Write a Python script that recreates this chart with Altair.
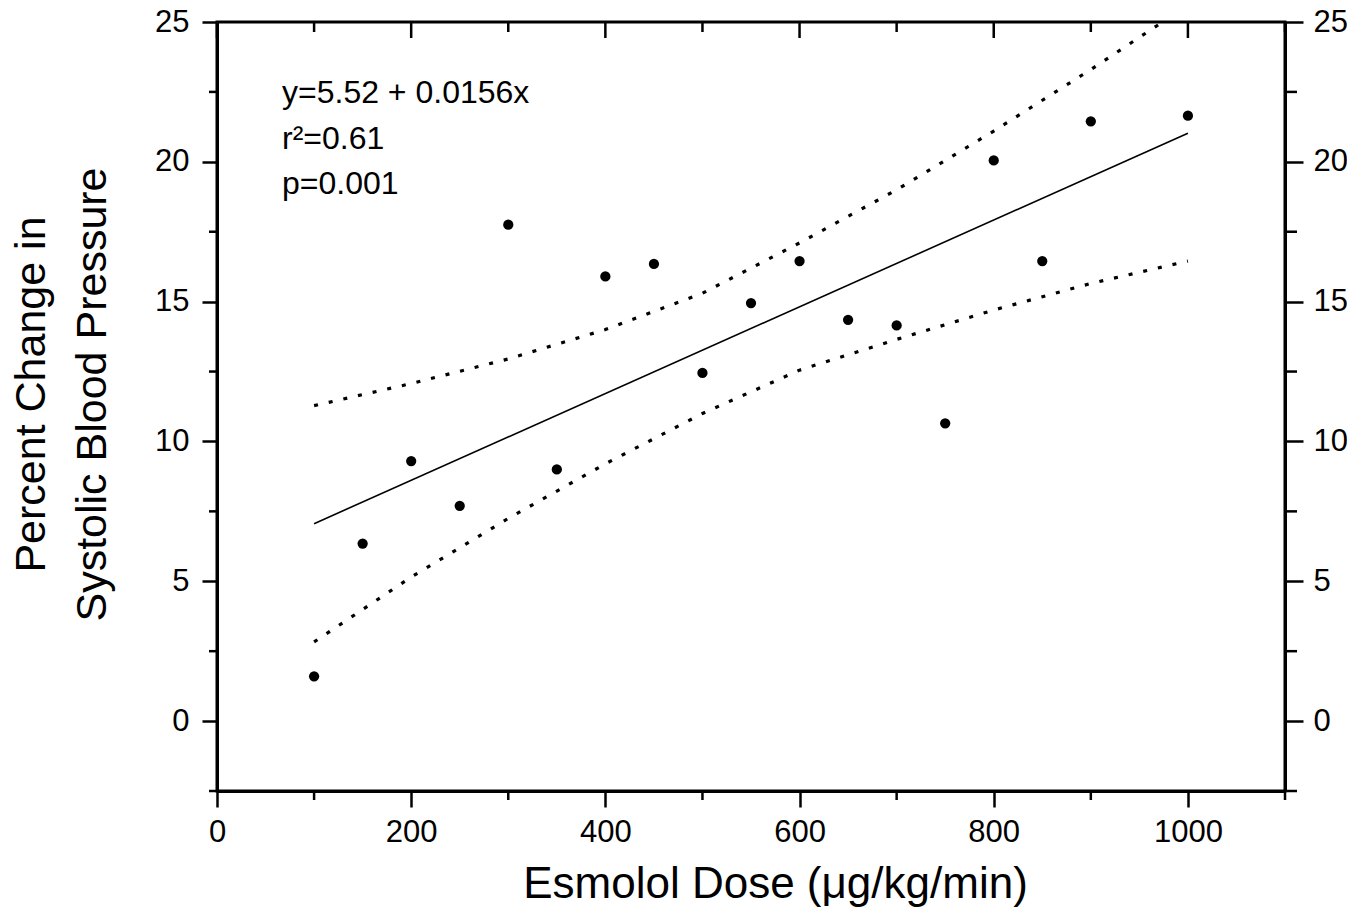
import altair as alt
import pandas as pd

# ---- data ----
dose = [100, 150, 200, 250, 300, 350, 400, 450, 500, 550, 600, 650, 700, 750, 800, 850, 900, 1000]
pct_change = [1.6, 6.35, 9.3, 7.7, 17.75, 9.0, 15.9, 16.35, 12.45, 14.95, 16.45, 14.35, 14.15,
              10.65, 20.05, 16.45, 21.45, 21.65]

fit_dose = [100, 1000]
fit_value = [7.06, 21.02]

band_dose = [100, 200, 300, 400, 500, 600, 700, 800, 900, 1000]
band_upper = [11.28, 12.07, 12.95, 14.0, 15.3, 17.1, 19.0, 21.1, 23.3, 25.6]
band_lower = [2.83, 5.15, 7.25, 9.2, 11.0, 12.55, 13.65, 14.7, 15.65, 16.45]

x_major = [0, 200, 400, 600, 800, 1000]
x_minor = [100, 300, 500, 700, 900, 1100]
y_major = [0, 5, 10, 15, 20, 25]
y_minor = [-2.5, 2.5, 7.5, 12.5, 17.5, 22.5]

annotation = ["y=5.52 + 0.0156x", "r\u00b2=0.61", "p=0.001"]
x_title = "Esmolol Dose (\u03bcg/kg/min)"
y_title = ["Percent Change in", "Systolic Blood Pressure"]

# ---- tables ----
df_pts = pd.DataFrame({"dose": dose, "change": pct_change})
df_fit = pd.DataFrame({"dose": fit_dose, "fit": fit_value})
df_band = pd.DataFrame({"dose": band_dose, "upper": band_upper, "lower": band_lower})
df_xmaj = pd.DataFrame({"v": x_major})
df_xmin = pd.DataFrame({"v": x_minor})
df_ymin = pd.DataFrame({"v": y_minor})
df_ann = pd.DataFrame({"t": ["\n".join(annotation)]})

W, H = 1068, 769
FONT = "Liberation Sans"
xscale = alt.Scale(domain=[0, 1100], nice=False, zero=False)
yscale = alt.Scale(domain=[-2.5, 25], nice=False, zero=False)

common_axis = dict(
    grid=False, domainColor="black", domainWidth=3, tickColor="black", tickWidth=2.5,
    labelFont=FONT, labelFontSize=31, labelColor="black", labelFlush=False,
    labelOverlap=False, titleFont=FONT, titleColor="black", titleFontWeight="normal",
    format="d",
)

x_axis = alt.Axis(
    values=x_major, orient="bottom", tickSize=16, labelPadding=10,
    title=x_title, titleFontSize=44, titleX=558, titleY=106,
    titleAlign="center", titleBaseline="alphabetic", **common_axis,
)
y_axis_left = alt.Axis(
    values=y_major, orient="left", tickSize=15, labelPadding=13,
    title=y_title, titleFontSize=43, titleAngle=270, titleX=-173, titleY=372,
    titleAlign="center", titleBaseline="alphabetic", titleLineHeight=61,
    **common_axis,
)
y_axis_right = alt.Axis(
    values=y_major, orient="right", tickSize=18, labelPadding=10, title=None,
    **common_axis,
)

points = alt.Chart(df_pts).mark_circle(size=105, color="black", opacity=1).encode(
    x=alt.X("dose:Q", scale=xscale, axis=x_axis),
    y=alt.Y("change:Q", scale=yscale, axis=y_axis_left),
)

fit = alt.Chart(df_fit).mark_line(color="black", strokeWidth=1.6).encode(
    x=alt.X("dose:Q", scale=xscale, axis=None),
    y=alt.Y("fit:Q", scale=yscale, axis=y_axis_right),
)

band_style = dict(color="black", strokeWidth=3.2, strokeDash=[4, 11], strokeCap="butt", clip=True)

upper = alt.Chart(df_band).mark_line(**band_style).encode(
    x=alt.X("dose:Q", scale=xscale, axis=None),
    y=alt.Y("upper:Q", scale=yscale, axis=None),
)

lower = alt.Chart(df_band).mark_line(**band_style).encode(
    x=alt.X("dose:Q", scale=xscale, axis=None),
    y=alt.Y("lower:Q", scale=yscale, axis=None),
)

rule_style = dict(color="black", strokeWidth=2.5, strokeCap="butt")

top_major = alt.Chart(df_xmaj).mark_rule(**rule_style).encode(
    x=alt.X("v:Q", scale=xscale, axis=None), y=alt.value(0), y2=alt.value(16)
)
top_minor = alt.Chart(df_xmin).mark_rule(**rule_style).encode(
    x=alt.X("v:Q", scale=xscale, axis=None), y=alt.value(0), y2=alt.value(10)
)
bottom_minor = alt.Chart(df_xmin).mark_rule(**rule_style).encode(
    x=alt.X("v:Q", scale=xscale, axis=None), y=alt.value(H), y2=alt.value(H + 9)
)
left_minor = alt.Chart(df_ymin).mark_rule(**rule_style).encode(
    y=alt.Y("v:Q", scale=yscale, axis=None), x=alt.value(-8), x2=alt.value(0)
)
right_minor = alt.Chart(df_ymin).mark_rule(**rule_style).encode(
    y=alt.Y("v:Q", scale=yscale, axis=None), x=alt.value(W), x2=alt.value(W + 12)
)

annot = alt.Chart(df_ann).mark_text(
    align="left", baseline="alphabetic", font=FONT, fontSize=32, color="black",
    lineBreak="\n", lineHeight=45.5,
).encode(text="t:N", x=alt.value(65), y=alt.value(81))

chart = (
    alt.layer(points, fit, upper, lower, top_major, top_minor, bottom_minor,
              left_minor, right_minor, annot)
    .resolve_axis(x="independent", y="independent")
    .properties(
        width=W, height=H,
        autosize=alt.AutoSizeParams(type="none"),
        padding={"left": 209, "top": 14, "right": 62, "bottom": 125},
        background="white",
    )
    .configure_view(stroke="black", strokeWidth=3)
)

chart.save("out.html", embed_options={"renderer": "svg", "actions": False})
